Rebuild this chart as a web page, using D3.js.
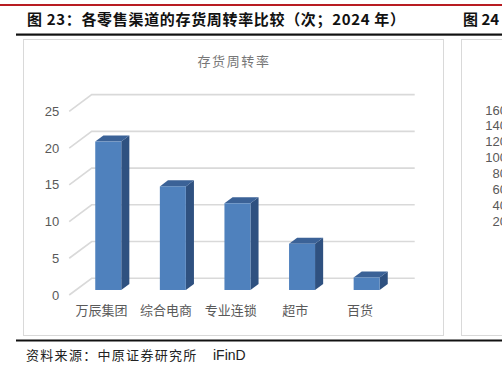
<!DOCTYPE html>
<html>
<head>
<meta charset="utf-8">
<script src="https://cdn.jsdelivr.net/npm/d3@7"></script>
<style>
  body { margin: 0; background: #fff; }
  svg { display: block; }
  .cjk { font-family: "Noto Sans CJK SC", sans-serif; }
</style>
</head>
<body>
<div id="chart"></div>
<script>
// data
var categories = ["万辰集团", "综合电商", "专业连锁", "超市", "百货"];
var turnover = [20.2, 14.1, 11.8, 6.3, 1.7];
var yTicks = [0, 5, 10, 15, 20, 25];
// partial y tick labels of the neighbouring figure 24 (clipped at page edge)
var nextTicks = [20, 40, 60, 80, 100, 120, 140, 160];

var W = 502, H = 368;
var svg = d3.select("#chart").append("svg")
    .attr("width", W)
    .attr("height", H);

// page frame: red rule, title, black rules
svg.append("rect").attr("x", 0).attr("y", 4).attr("width", W).attr("height", 2).attr("fill", "#b81c22");

svg.append("text")
    .attr("class", "cjk")
    .attr("x", 27).attr("y", 25)
    .attr("textLength", 378).attr("lengthAdjust", "spacing")
    .style("font-size", "15px").style("font-weight", "bold").attr("fill", "#111")
    .text("图 23：各零售渠道的存货周转率比较（次；2024 年）");

svg.append("text")
    .attr("class", "cjk")
    .attr("x", 463).attr("y", 25)
    .style("font-size", "15px").style("font-weight", "bold").attr("fill", "#111")
    .text("图 24");

svg.append("rect").attr("x", 16).attr("y", 33.5).attr("width", W - 16).attr("height", 2.2).attr("fill", "#111");
svg.append("rect").attr("x", 16).attr("y", 339.5).attr("width", W - 16).attr("height", 2).attr("fill", "#111");

// chart boxes
svg.append("rect").attr("x", 23.5).attr("y", 39.5).attr("width", 420).attr("height", 296)
    .attr("fill", "#fff").attr("stroke", "#d9d9d9");
svg.append("rect").attr("x", 461.5).attr("y", 39.5).attr("width", 60).attr("height", 296)
    .attr("fill", "#fff").attr("stroke", "#d9d9d9");

// source line
svg.append("text")
    .attr("class", "cjk")
    .attr("x", 26).attr("y", 360)
    .style("font-size", "13px").style("letter-spacing", "1.3px").attr("fill", "#222")
    .text("资料来源：中原证券研究所");
svg.append("text")
    .attr("x", 213).attr("y", 360)
    .style("font-family", "Liberation Sans, Arial, sans-serif")
    .style("font-size", "14px").attr("fill", "#222")
    .text("iFinD");

// chart title
svg.append("text")
    .attr("class", "cjk")
    .attr("x", 234).attr("y", 66)
    .attr("text-anchor", "middle")
    .style("font-size", "13px").style("letter-spacing", "1.6px").attr("fill", "#777")
    .text("存货周转率");

// 3D plot geometry: front plane + depth offset to the back wall
var DX = 22.5, DY = -16.7;
var x0 = 69.2, x1 = 392.2;

var x = d3.scaleBand()
    .domain(categories)
    .range([x0, x1]);

var y = d3.scaleLinear()
    .domain([0, 25])
    .range([295, 111.3]);

function depth(t) { return [t * DX, t * DY]; }

// gridlines: left wall diagonal + back wall line
var grid = svg.append("g");
yTicks.forEach(function(v) {
  var yy = y(v);
  grid.append("path")
      .attr("d", "M" + x0 + "," + yy + "L" + (x0 + DX) + "," + (yy + DY) + "L" + (x1 + DX) + "," + (yy + DY))
      .attr("fill", "none")
      .attr("stroke", "#d9d9d9")
      .attr("stroke-width", 1.6);
});

// y axis labels
var yAxis = svg.append("g")
    .attr("transform", "translate(" + x0 + ",0)")
    .call(d3.axisLeft(y).tickValues(yTicks).tickSize(0).tickPadding(10));
yAxis.select(".domain").remove();
yAxis.selectAll("text")
    .style("font-family", "Liberation Sans, Arial, sans-serif")
    .style("font-size", "13px")
    .attr("fill", "#595959");

// x axis labels
var xAxis = svg.append("g")
    .attr("transform", "translate(0," + y(0) + ")")
    .call(d3.axisBottom(x).tickSize(0).tickPadding(11));
xAxis.select(".domain").remove();
xAxis.selectAll("text")
    .attr("class", "cjk")
    .style("font-size", "13px")
    .attr("fill", "#595959");

// bars
var barW = 26, tFront = 0.3, tBack = 0.66;
var bars = svg.append("g").selectAll("g")
    .data(categories.map(function(c, i) { return {name: c, value: turnover[i]}; }))
    .enter().append("g");

bars.each(function(d) {
  var g = d3.select(this);
  var f = depth(tFront), b = depth(tBack);
  var xl = x(d.name) + x.bandwidth() / 2 - barW / 2 + f[0];
  var xr = xl + barW;
  var yt = y(d.value) + f[1];
  var yb = y(0) + f[1];
  var ddx = b[0] - f[0], ddy = b[1] - f[1];

  g.append("path")
      .attr("d", "M" + xr + "," + yt + "L" + (xr + ddx) + "," + (yt + ddy) + "L" + (xr + ddx) + "," + (yb + ddy) + "L" + xr + "," + yb + "Z")
      .attr("fill", "#2f5180");
  g.append("path")
      .attr("d", "M" + xl + "," + yt + "L" + xr + "," + yt + "L" + (xr + ddx) + "," + (yt + ddy) + "L" + (xl + ddx) + "," + (yt + ddy) + "Z")
      .attr("fill", "#3b6297");
  g.append("rect")
      .attr("x", xl).attr("y", yt)
      .attr("width", barW).attr("height", yb - yt)
      .attr("fill", "#4f81bd");
});

// neighbouring chart tick labels (cut off by page edge)
var y2 = d3.scaleLinear().domain([20, 160]).range([221, 110]);
svg.append("g").selectAll("text")
    .data(nextTicks)
    .enter().append("text")
    .attr("x", 507)
    .attr("y", function(d) { return y2(d); })
    .attr("dy", "0.35em")
    .attr("text-anchor", "end")
    .style("font-family", "Liberation Sans, Arial, sans-serif")
    .style("font-size", "13px")
    .attr("fill", "#595959")
    .text(function(d) { return d; });
</script>
</body>
</html>
